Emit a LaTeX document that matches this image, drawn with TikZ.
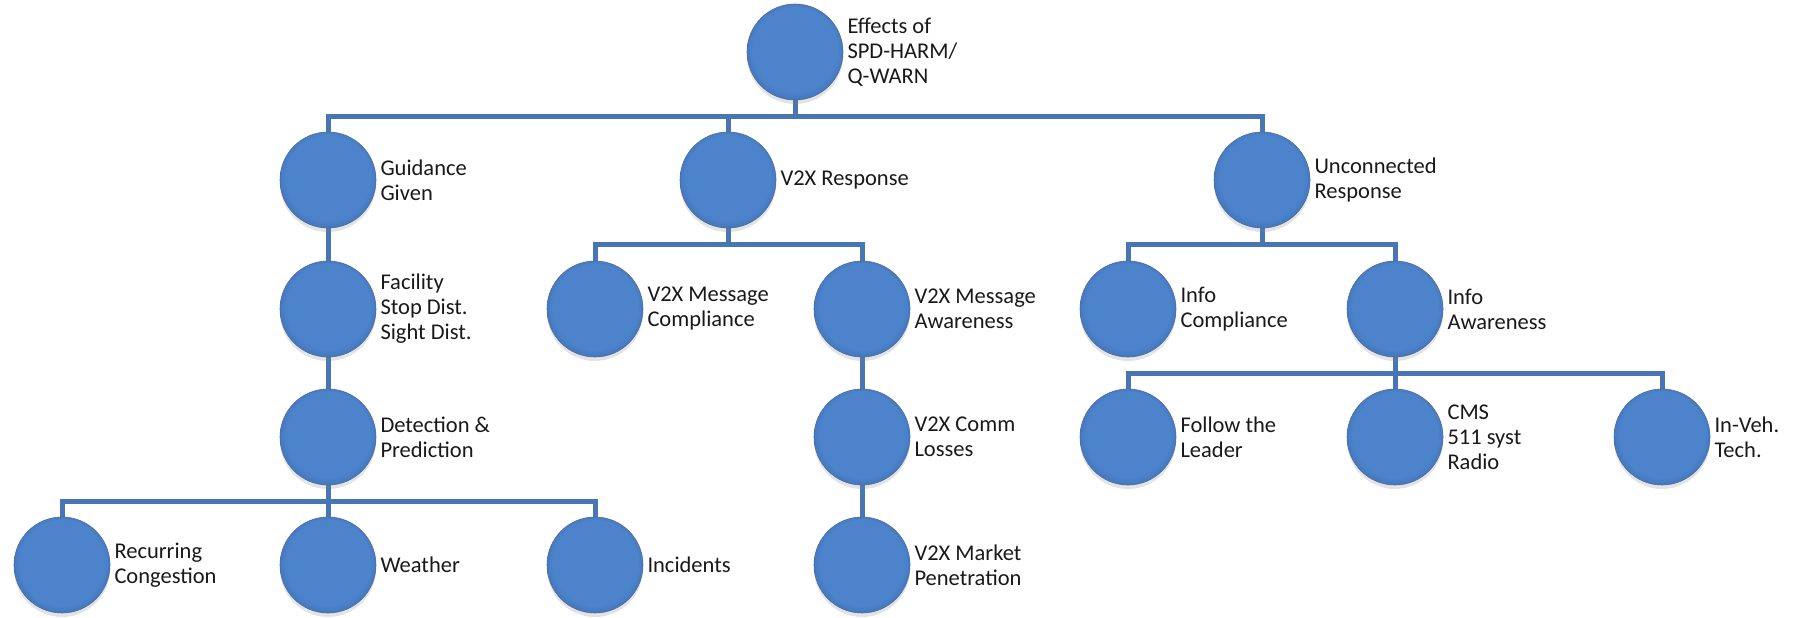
\documentclass[tikz,border=0pt]{standalone}
\usepackage{fontspec}
\setmainfont{Carlito}
\usetikzlibrary{calc,backgrounds,shadows}

\definecolor{linkblue}{RGB}{72,118,180}
\definecolor{ballmid}{RGB}{76,131,203}
\definecolor{ballrim}{RGB}{60,110,180}
\definecolor{balledge}{RGB}{34,70,124}
\definecolor{labelink}{RGB}{25,25,25}

% flat centre that darkens towards the rim (rim of the ball sits near 35bp)
\pgfdeclareradialshading{ballshade}{\pgfpoint{0bp}{2bp}}{%
  color(0bp)=(ballmid);
  color(22bp)=(ballmid);
  color(29bp)=(ballrim);
  color(34bp)=(balledge);
  color(50bp)=(balledge)}

\tikzset{
  ball/.style={circle, minimum size=96pt, inner sep=0pt,
    shade, shading=ballshade,
    draw=balledge!80, line width=0.6pt,
    drop shadow={opacity=0.22, shadow xshift=0pt, shadow yshift=-4pt}},
  caption/.style={anchor=west, align=left, inner sep=0pt, text=labelink,
    font=\fontsize{22.5}{25}\selectfont},
  link/.style={draw=linkblue, line width=5pt, line join=miter}
}

% \bubble{name}{x}{y}{text}: a ball with its caption to the right
\newcommand{\bubble}[4]{%
  \node[ball] (#1) at (#2,#3) {};
  \node[caption] (#1-t) at ($(#1.east)+(4,0)$) {#4};
}

\begin{document}
\begin{tikzpicture}[x=1pt,y=-1pt]
\useasboundingbox (0,0) rectangle (1794,618);

\bubble{root}{795}{52}{Effects of\\SPD-HARM/\\Q-WARN}

\bubble{guide}{328}{180}{Guidance\\Given}
\bubble{v2x}{728}{180}{V2X Response}
\bubble{unconn}{1262}{180}{Unconnected\\Response}

\bubble{facil}{328}{309}{Facility\\Stop Dist.\\Sight Dist.}
\bubble{mcomp}{595}{309}{V2X Message\\Compliance}
\bubble{maware}{862}{309}{V2X Message\\Awareness}
\bubble{icomp}{1128}{309}{Info\\Compliance}
\bubble{iaware}{1395}{309}{Info\\Awareness}

\bubble{detect}{328}{437}{Detection \&\\Prediction}
\bubble{comm}{862}{437}{V2X Comm\\Losses}
\bubble{follow}{1128}{437}{Follow the\\Leader}
\bubble{cms}{1395}{437}{CMS\\511 syst\\Radio}
\bubble{inveh}{1662}{437}{In-Veh.\\Tech.}

\bubble{recur}{62}{565}{Recurring\\Congestion}
\bubble{weather}{328}{565}{Weather}
\bubble{incid}{595}{565}{Incidents}
\bubble{market}{862}{565}{V2X Market\\Penetration}

\begin{scope}[on background layer]
  \foreach \p/\c in {root/guide, root/v2x, root/unconn,
                     guide/facil, facil/detect,
                     v2x/mcomp, v2x/maware, maware/comm, comm/market,
                     unconn/icomp, unconn/iaware,
                     iaware/follow, iaware/cms, iaware/inveh,
                     detect/recur, detect/weather, detect/incid}
    \draw[link] (\p.center) -- ($(\p.south)!0.5!(\p.south|-\c.north)$) -| (\c.center);
\end{scope}
\end{tikzpicture}
\end{document}
